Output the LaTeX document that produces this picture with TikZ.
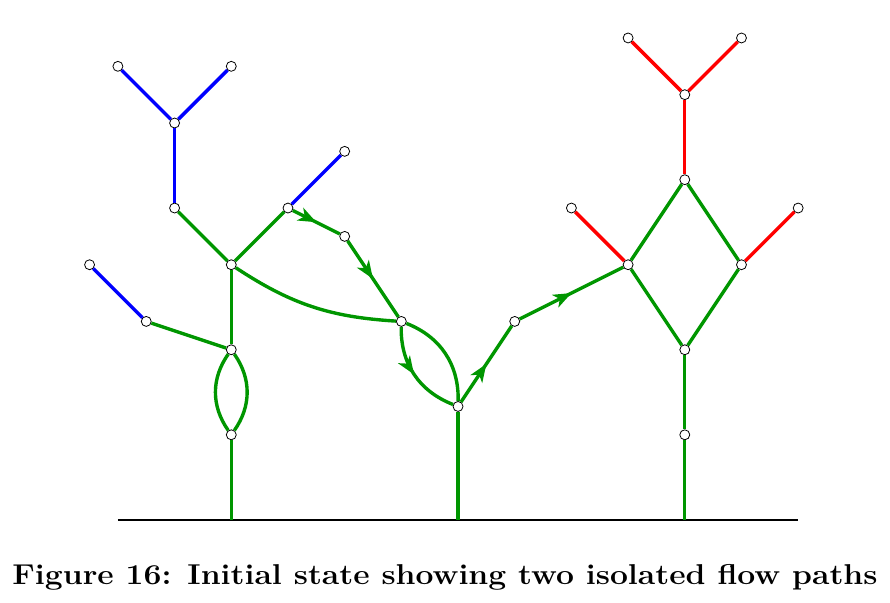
\documentclass[tikz,border=0pt]{standalone}
\usepackage{amsmath}
\usepackage{graphicx}
\usepackage{tikz}
\usetikzlibrary{ % tikz packages
    arrows.meta,bending,
    decorations.markings
}
\definecolor{flowgreen}{RGB}{0,150,0}
\tikzset{junction/.style={
    circle, draw, fill=white,
    inner sep=0pt,
    minimum size=5pt,
    line width=0.4pt
}}
\tikzset{
    pipe/.style={draw=flowgreen, line width=1.7pt},
    dry/.style={draw=blue, line width=1.7pt},
    hot/.style={draw=red, line width=1.7pt},
    flow/.style={pipe, postaction={decorate}, decoration={markings,
        mark=at position 0.5 with {\arrow[flowgreen]{Stealth[length=9pt,width=7pt,inset=2.5pt]}}}}
}

\begin{document}
\begin{tikzpicture}
            \useasboundingbox (-2.08,-1.45) rectangle (13.62,9.17);
            % ground
            \coordinate (gl) at (2,0);
            \coordinate (gm) at (6,0);
            \coordinate (gr) at (10,0);
            \draw[line width=1pt] (0,0) -- (12,0);

            % left tree
            \node[junction] (l1) at (2,1.5) {};
            \node[junction] (l2) at (2,3) {};
            \node[junction] (l3) at (0.5,3.5) {};
            \node[junction] (l4) at (-0.5,4.5) {};
            \node[junction] (l5) at (2,4.5) {};
            \node[junction] (l6) at (1,5.5) {};
            \node[junction] (l7) at (1,7) {};
            \node[junction] (l8) at (0,8) {};
            \node[junction] (l9) at (2,8) {};
            \node[junction] (l10) at (3,5.5) {};
            \node[junction] (l11) at (4,6.5) {};
            \node[junction] (m1) at (4,5) {};
            \node[junction] (m2) at (5,3.5) {};

            % middle
            \node[junction] (m3) at (6,2) {};
            \node[junction] (m4) at (7,3.5) {};

            % right tree
            \node[junction] (r1) at (10,1.5) {};
            \node[junction] (r2) at (10,3) {};
            \node[junction] (r3) at (9,4.5) {};
            \node[junction] (r4) at (11,4.5) {};
            \node[junction] (r5) at (10,6) {};
            \node[junction] (r6) at (8,5.5) {};
            \node[junction] (r7) at (12,5.5) {};
            \node[junction] (r8) at (10,7.5) {};
            \node[junction] (r9) at (9,8.5) {};
            \node[junction] (r10) at (11,8.5) {};

            \path[pipe]
                (gl) edge (l1)
                (l1) edge[bend left=35] (l2)
                (l1) edge[bend right=35] (l2)
                (l2) edge (l5)
                (l3) edge (l2)
                (l5) edge (l6)
                (l5) edge (l10)
                (l5) edge[bend right=15] (m2)
                (m2) edge[bend left=35] (m3)
                (gm) edge (m3)
                (r3) edge (r5)
                (r3) edge (r2)
                (r2) edge (r4)
                (r4) edge (r5)
                (r2) edge (r1)
                (gr) edge (r1);

            % flow path with arrows
            \path[pipe]
                (l10) edge[flow] (m1)
                (m1) edge[flow] (m2)
                (m2) edge[flow, bend right=35] (m3)
                (m3) edge[flow] (m4)
                (m4) edge[flow] (r3);

            \path[dry]
                (l3) edge (l4)
                (l6) edge (l7)
                (l7) edge (l8)
                (l7) edge (l9)
                (l10) edge (l11);

            \path[hot]
                (r3) edge (r6)
                (r4) edge (r7)
                (r5) edge (r8)
                (r8) edge (r9)
                (r8) edge (r10);

            \node[font=\Large\bfseries] (cap) at (5.77,-1.02) {\scalebox{1.11}[1]{Figure 16: Initial state showing two isolated flow paths}};
        \end{tikzpicture}
\end{document}
